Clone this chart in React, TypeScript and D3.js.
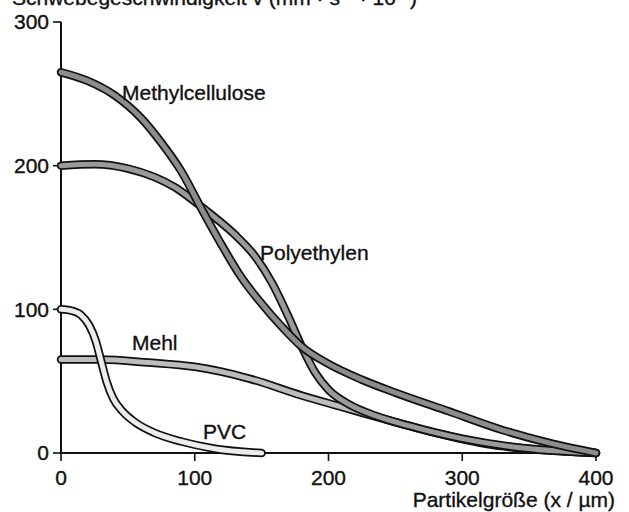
import * as d3 from "d3";

type Pt = [number, number];

const xTicks = [0, 100, 200, 300, 400];
const yTicks = [0, 100, 200, 300];

const methylcellulose: Pt[] = [
	[0, 265], [20, 259], [40, 249], [60, 233], [75, 216], [90, 196], [105, 170],
	[120, 145], [135, 122], [150, 104], [165, 88], [180, 74], [200, 62], [225, 51],
	[250, 42], [290, 29], [330, 16], [365, 7], [400, 0],
];
const polyethylen: Pt[] = [
	[0, 200], [25, 201], [50, 198], [70, 192], [85, 185], [100, 175], [115, 164],
	[130, 152], [145, 137], [158, 118], [170, 95], [180, 74], [190, 56], [200, 44],
	[215, 34], [235, 26], [260, 19], [300, 10], [340, 4], [400, 0],
];
const mehl: Pt[] = [
	[0, 65], [30, 65], [65, 63], [100, 60], [140, 52], [180, 40], [210, 32],
	[240, 24], [280, 14], [320, 6], [360, 2], [400, 0],
];
const pvc: Pt[] = [
	[0, 100], [8, 99], [15, 96], [21, 89], [26, 78], [30, 64], [34, 50], [39, 38],
	[46, 29], [56, 21], [70, 14], [90, 8], [115, 3], [150, 0],
];

const series = [
	{ name: "Mehl", data: mehl, fill: "#bdbdbd" },
	{ name: "PVC", data: pvc, fill: "#ececec" },
	{ name: "Polyethylen", data: polyethylen, fill: "#9a9a9a" },
	{ name: "Methylcellulose", data: methylcellulose, fill: "#8c8c8c" },
];

const labels = [
	{ text: "Methylcellulose", x: 122, y: 100 },
	{ text: "Polyethylen", x: 260, y: 260 },
	{ text: "Mehl", x: 132, y: 350 },
	{ text: "PVC", x: 203, y: 439 },
];

const FONT = "'Liberation Sans', Arial, Helvetica, sans-serif";

export default function App() {
	const width = 629;
	const height = 512;
	const x = d3.scaleLinear().domain([0, 400]).range([61, 596]);
	const y = d3.scaleLinear().domain([0, 300]).range([453, 22]);

	const line = d3
		.line<Pt>()
		.x((d) => x(d[0]))
		.y((d) => y(d[1]))
		.curve(d3.curveMonotoneX);

	const textProps = { fontSize: 21, fill: "#111", stroke: "#111", strokeWidth: 0.35 };

	return (
		<svg
			width={width}
			height={height}
			style={{ position: "absolute", left: 0, top: 0, background: "#fff" }}
			fontFamily={FONT}
		>
			{/* y axis title, cut off at the top edge */}
			<text x={12} y={5} {...textProps}>
				Schwebegeschwindigkeit v (mm · s⁻¹ · 10⁻³)
			</text>

			{/* axes */}
			<line x1={x(0)} y1={y(300)} x2={x(0)} y2={y(0)} stroke="#111" strokeWidth={2} />
			<line x1={x(0)} y1={y(0)} x2={x(400)} y2={y(0)} stroke="#111" strokeWidth={2} />
			{yTicks.map((t) => (
				<g key={"y" + t}>
					<line x1={x(0) - 8} y1={y(t)} x2={x(0)} y2={y(t)} stroke="#111" strokeWidth={1.6} />
					<text x={x(0) - 12} y={y(t)} dy="0.35em" textAnchor="end" {...textProps}>
						{t}
					</text>
				</g>
			))}
			{xTicks.map((t) => (
				<g key={"x" + t}>
					<line x1={x(t)} y1={y(0)} x2={x(t)} y2={y(0) + 8} stroke="#111" strokeWidth={1.6} />
					<text x={x(t)} y={y(0) + 32} textAnchor="middle" {...textProps}>
						{t}
					</text>
				</g>
			))}
			<text x={615} y={507} textAnchor="end" {...textProps}>
				Partikelgröße  (x / µm)
			</text>

			{/* curves drawn as outlined bands */}
			{series.map((s) => (
				<g key={s.name}>
					<path d={line(s.data) ?? ""} fill="none" stroke="#111" strokeWidth={8.5} strokeLinecap="round" />
					<path d={line(s.data) ?? ""} fill="none" stroke={s.fill} strokeWidth={5} strokeLinecap="round" />
				</g>
			))}

			{labels.map((l) => (
				<text key={l.text} x={l.x} y={l.y} {...textProps}>
					{l.text}
				</text>
			))}
		</svg>
	);
}
